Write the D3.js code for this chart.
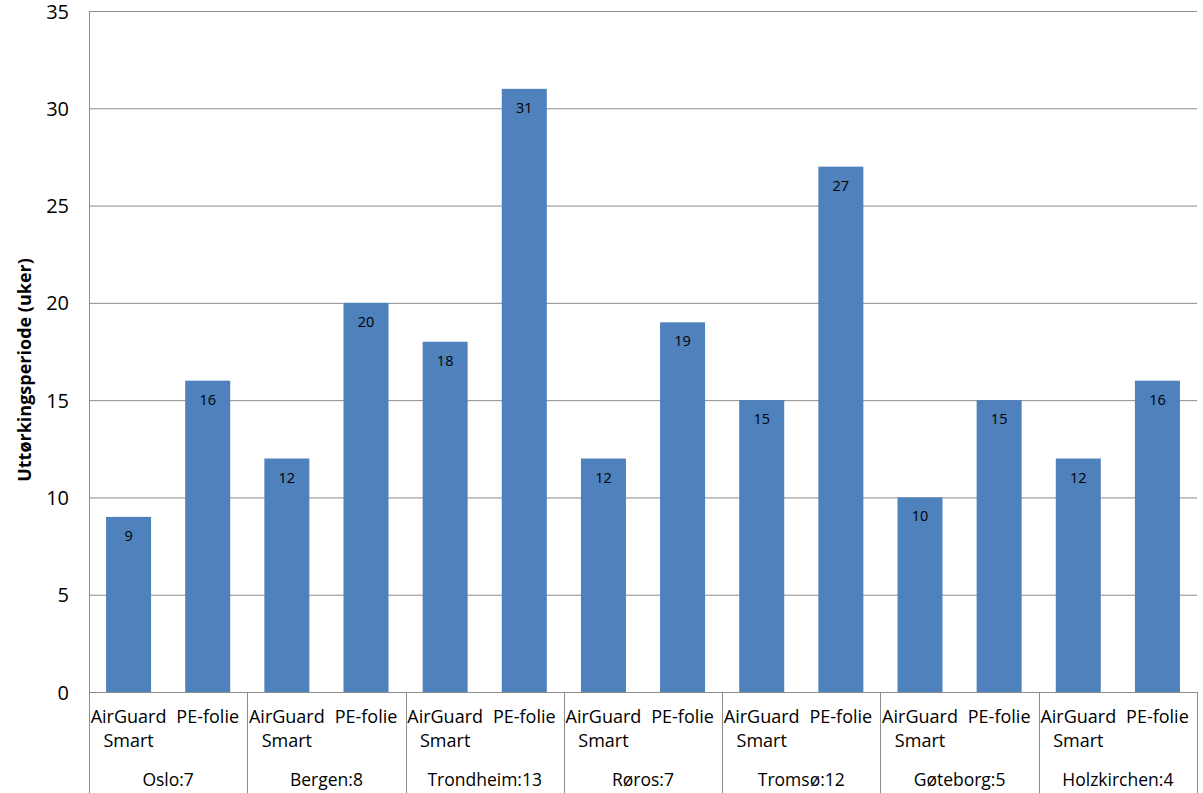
<!DOCTYPE html>
<html><head><meta charset="utf-8">
<script src="https://cdn.jsdelivr.net/npm/d3@7"></script>
<style>body{margin:0;background:#fff}svg{display:block}text{font-family:"Open Sans",Lato,sans-serif}</style>
</head><body><svg id="c" width="1203" height="793"></svg>
<script>
const groups = ["Oslo:7","Bergen:8","Trondheim:13","Røros:7","Tromsø:12","Gøteborg:5","Holzkirchen:4"];
const seriesNames = ["AirGuard Smart","PE-folie"];
const airguard = [9,12,18,12,15,10,12];
const pefolie = [16,20,31,19,27,15,16];
const yTicks = [0,5,10,15,20,25,30,35];
const yTitle = "Uttørkingsperiode (uker)";

const svg = d3.select("#c");
const L=89, R=1197, T=11, B=692, BOTTOM=793;
const x0 = d3.scaleBand().domain(groups).range([L,R]).padding(0);
const x1 = d3.scaleBand().domain(seriesNames).range([0,x0.bandwidth()]).padding(0);
const y = d3.scaleLinear().domain([0,35]).range([B,T]);
const grid="#8c8c8c";

// gridlines
svg.append("g").selectAll("line").data(yTicks).join("line")
 .attr("x1",L).attr("x2",R).attr("y1",d=>y(d)+0.5).attr("y2",d=>y(d)+0.5)
 .attr("stroke",grid).attr("stroke-width",1);
// y axis line
svg.append("line").attr("x1",L+0.5).attr("x2",L+0.5).attr("y1",T).attr("y2",BOTTOM).attr("stroke",grid);
// y tick labels
svg.append("g").selectAll("text").data(yTicks).join("text")
 .attr("x",69).attr("y",d=>y(d)+7.5).attr("text-anchor","end")
 .attr("font-size",20).attr("fill","#000").text(d=>d);
// y title
svg.append("text").attr("transform",`translate(31,370) rotate(-90)`)
 .attr("text-anchor","middle").attr("font-size",18).attr("font-weight","bold").text(yTitle);

// group separators
const seps = groups.map(g=>x0(g)).concat([R]);
svg.append("g").selectAll("line").data(seps).join("line")
 .attr("x1",d=>Math.round(d)+0.5).attr("x2",d=>Math.round(d)+0.5).attr("y1",B).attr("y2",BOTTOM).attr("stroke",grid);

// bars
const data=[];
groups.forEach((g,i)=>{data.push({g,s:seriesNames[0],v:airguard[i]});data.push({g,s:seriesNames[1],v:pefolie[i]});});
const bw=45;
const cx=d=>x0(d.g)+x1(d.s)+x1.bandwidth()/2;
svg.append("g").selectAll("rect").data(data).join("rect")
 .attr("x",d=>cx(d)-bw/2).attr("width",bw).attr("y",d=>y(d.v)).attr("height",d=>y(0)-y(d.v))
 .attr("fill","#4F81BD");
svg.append("g").selectAll("text").data(data).join("text")
 .attr("x",cx).attr("y",d=>y(d.v)+24).attr("text-anchor","middle").attr("font-size",14.5).attr("fill","#000").text(d=>d.v);

// category labels
const cat = svg.append("g").selectAll("text").data(data).join("text")
 .attr("x",cx).attr("y",723).attr("text-anchor","middle").attr("font-size",18).attr("fill","#000");
cat.each(function(d){
  const words=d.s==="AirGuard Smart"?["AirGuard","Smart"]:["PE-folie"];
  const t=d3.select(this);
  words.forEach((w,i)=>t.append("tspan").attr("x",cx(d)).attr("dy",i?24:0).text(w));
});
// group labels
svg.append("g").selectAll("text").data(groups).join("text")
 .attr("x",d=>x0(d)+x0.bandwidth()/2).attr("y",786).attr("text-anchor","middle").attr("font-size",17.5).attr("fill","#000").text(d=>d);
</script></body></html>
